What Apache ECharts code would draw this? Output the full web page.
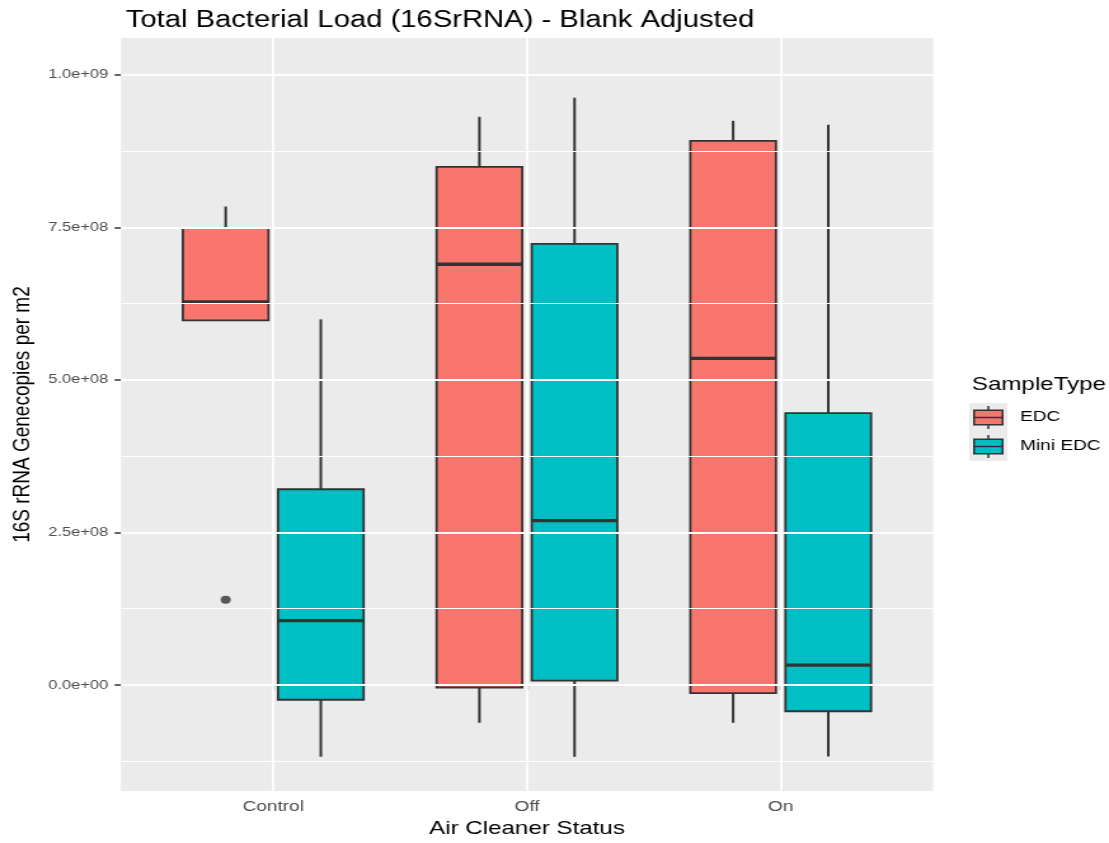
<!DOCTYPE html>
<html>
<head>
<meta charset="utf-8">
<script src="https://cdn.jsdelivr.net/npm/echarts@6/dist/echarts.min.js"></script>
<style>
html,body{margin:0;padding:0;overflow:hidden;background:#fff}
#wrap{width:1109px;height:843px;overflow:hidden;position:relative}
#chart{width:873px;height:843px;transform:scaleX(1.27033);transform-origin:0 0}
</style>
</head>
<body>
<div id="wrap"><div id="chart"></div></div>
<script>
// ---------------- data ----------------
const categories = ['Control', 'Off', 'On'];
const sampleTypes = ['EDC', 'Mini EDC'];
// per category: [lowerWhisker, Q1, median, Q3, upperWhisker]
const edcStats = [
  [0.5976e9, 0.5976e9, 0.6277e9, 0.7489e9, 0.7841e9],
  [-0.0621e9, -0.0042e9, 0.6894e9, 0.8490e9, 0.9311e9],
  [-0.0621e9, -0.0135e9, 0.5353e9, 0.8916e9, 0.9246e9]
];
const miniEdcStats = [
  [-0.1178e9, -0.0243e9, 0.1054e9, 0.3207e9, 0.5992e9],
  [-0.1178e9, 0.0071e9, 0.2693e9, 0.7230e9, 0.9625e9],
  [-0.1173e9, -0.0431e9, 0.0324e9, 0.4456e9, 0.9181e9]
];
// outliers: [categoryIndex, value]
const edcOutliers = [[0, 0.1395e9]];
const miniEdcOutliers = [];
const yTickValues = [0, 2.5e8, 5e8, 7.5e8, 1e9];
const yTickLabels = ['0.0e+00', '2.5e+08', '5.0e+08', '7.5e+08', '1.0e+09'];
const yMinorValues = [-1.25e8, 1.25e8, 3.75e8, 6.25e8, 8.75e8];
const xTickValues = [1, 2, 3];

// ---------------- styling ----------------
const COLORS = ['#F8766D', '#00BFC4'];
const LINE = '#333333';
const DODGE = 0.1875;
const BOX_W = 0.3375;
const FONT = "'Liberation Sans', Arial, Helvetica, sans-serif";

function makeRender(offset, color) {
  return function (params, api) {
    const x = api.value(0) + 1 + offset;
    const cx = api.coord([x, 0])[0];
    const hw = api.size([BOX_W, 0])[0] / 2;
    const yy = i => api.coord([x, api.value(i)])[1];
    const yLo = yy(1), yQ1 = yy(2), yMed = yy(3), yQ3 = yy(4), yHi = yy(5);
    return {
      type: 'group',
      children: [
        { type: 'line', shape: { x1: cx, y1: yHi, x2: cx, y2: yQ3 }, style: { stroke: LINE, lineWidth: 2 } },
        { type: 'line', shape: { x1: cx, y1: yQ1, x2: cx, y2: yLo }, style: { stroke: LINE, lineWidth: 2 } },
        { type: 'rect', shape: { x: cx - hw, y: yQ3, width: 2 * hw, height: yQ1 - yQ3 },
          style: { fill: color, stroke: LINE, lineWidth: 1.8 } },
        { type: 'line', shape: { x1: cx - hw, y1: yMed, x2: cx + hw, y2: yMed }, style: { stroke: LINE, lineWidth: 3.4 } }
      ]
    };
  };
}

function boxData(stats) {
  return stats.map((s, i) => [i].concat(s));
}
function outlierData(list, offset) {
  return list.map(o => [o[0] + 1 + offset, o[1]]);
}

const gridLines = [];
yTickValues.forEach(v => gridLines.push({ yAxis: v, lineStyle: { width: 2.2 } }));
yMinorValues.forEach(v => gridLines.push({ yAxis: v, lineStyle: { width: 1.1 } }));
xTickValues.forEach(v => gridLines.push({ xAxis: v, lineStyle: { width: 1.8 } }));

// legend drawn as graphic
const legendGraphics = [
  { type: 'text', left: 765, top: 375, style: { text: 'SampleType', fill: '#000', font: '19px ' + FONT } },
  { type: 'rect', shape: { x: 763, y: 403, width: 30, height: 58 }, style: { fill: '#ebebeb' } }
];
sampleTypes.forEach((name, i) => {
  const ky = 403 + 29 * i;
  const x0 = 763, w = 30, h = 29;
  const cx = x0 + w / 2;
  legendGraphics.push(
    { type: 'line', shape: { x1: cx, y1: ky + h * 0.1, x2: cx, y2: ky + h * 0.25 }, style: { stroke: LINE, lineWidth: 1.5 } },
    { type: 'line', shape: { x1: cx, y1: ky + h * 0.75, x2: cx, y2: ky + h * 0.9 }, style: { stroke: LINE, lineWidth: 1.5 } },
    { type: 'rect', shape: { x: x0 + w * 0.125, y: ky + h * 0.25, width: w * 0.75, height: h * 0.5 },
      style: { fill: COLORS[i], stroke: LINE, lineWidth: 1.5 } },
    { type: 'line', shape: { x1: x0 + w * 0.125, y1: ky + h * 0.5, x2: x0 + w * 0.875, y2: ky + h * 0.5 }, style: { stroke: LINE, lineWidth: 1.5 } },
    { type: 'text', left: 803, top: ky + h / 2 - 8.5, style: { text: name, fill: '#000', font: '15px ' + FONT } }
  );
});

const chart = echarts.init(document.getElementById('chart'), null, { renderer: 'canvas' });
chart.setOption({
  animation: false,
  backgroundColor: '#ffffff',
  textStyle: { fontFamily: FONT },
  title: {
    text: 'Total Bacterial Load (16SrRNA) - Blank Adjusted',
    left: 94, top: 4,
    textStyle: { fontSize: 23, fontWeight: 'normal', color: '#000', fontFamily: FONT }
  },
  grid: {
    left: 95.2, top: 38, width: 639.2, height: 761,
    show: true, backgroundColor: '#ebebeb', borderWidth: 0, containLabel: false
  },
  xAxis: {
    type: 'value', min: 0.4, max: 3.6,
    axisLine: { show: false },
    axisTick: { show: true, customValues: xTickValues, length: 5, lineStyle: { color: LINE, width: 1.2 } },
    axisLabel: {
      customValues: xTickValues, margin: 8, fontSize: 15, color: '#4d4d4d', fontFamily: FONT,
      formatter: v => categories[Math.round(v) - 1]
    },
    splitLine: { show: false },
    name: 'Air Cleaner Status', nameLocation: 'middle', nameGap: 24,
    nameTextStyle: { fontSize: 19, color: '#000', fontFamily: FONT }
  },
  yAxis: {
    type: 'value', min: -1.74e8, max: 1.0603e9,
    axisLine: { show: false },
    axisTick: { show: true, customValues: yTickValues, length: 5, lineStyle: { color: LINE, width: 1.5 } },
    axisLabel: {
      customValues: yTickValues, margin: 10, fontSize: 13, color: '#4d4d4d', fontFamily: FONT,
      formatter: v => {
        const idx = yTickValues.findIndex(t => Math.abs(t - v) < 1);
        return idx >= 0 ? yTickLabels[idx] : '';
      }
    },
    splitLine: { show: false },
    name: '16S rRNA Genecopies per m2', nameLocation: 'middle', nameGap: 64,
    nameTextStyle: { fontSize: 19, color: '#000', fontFamily: FONT }
  },
  graphic: legendGraphics,
  series: [
    {
      type: 'line', data: [], z: 1, silent: true,
      markLine: {
        silent: true, symbol: ['none', 'none'], label: { show: false },
        lineStyle: { color: '#ffffff', type: 'solid' },
        emphasis: { disabled: true },
        data: gridLines
      }
    },
    {
      name: sampleTypes[0], type: 'custom', z: 3,
      renderItem: makeRender(-DODGE, COLORS[0]),
      encode: { x: 0, y: [1, 2, 3, 4, 5] },
      data: boxData(edcStats)
    },
    {
      name: sampleTypes[1], type: 'custom', z: 3,
      renderItem: makeRender(DODGE, COLORS[1]),
      encode: { x: 0, y: [1, 2, 3, 4, 5] },
      data: boxData(miniEdcStats)
    },
    {
      name: sampleTypes[0] + ' outliers', type: 'scatter', z: 4,
      symbol: 'circle', symbolSize: 8,
      itemStyle: { color: LINE },
      data: outlierData(edcOutliers, -DODGE)
    },
    {
      name: sampleTypes[1] + ' outliers', type: 'scatter', z: 4,
      symbol: 'circle', symbolSize: 8,
      itemStyle: { color: LINE },
      data: outlierData(miniEdcOutliers, DODGE)
    }
  ]
});
</script>
</body>
</html>
